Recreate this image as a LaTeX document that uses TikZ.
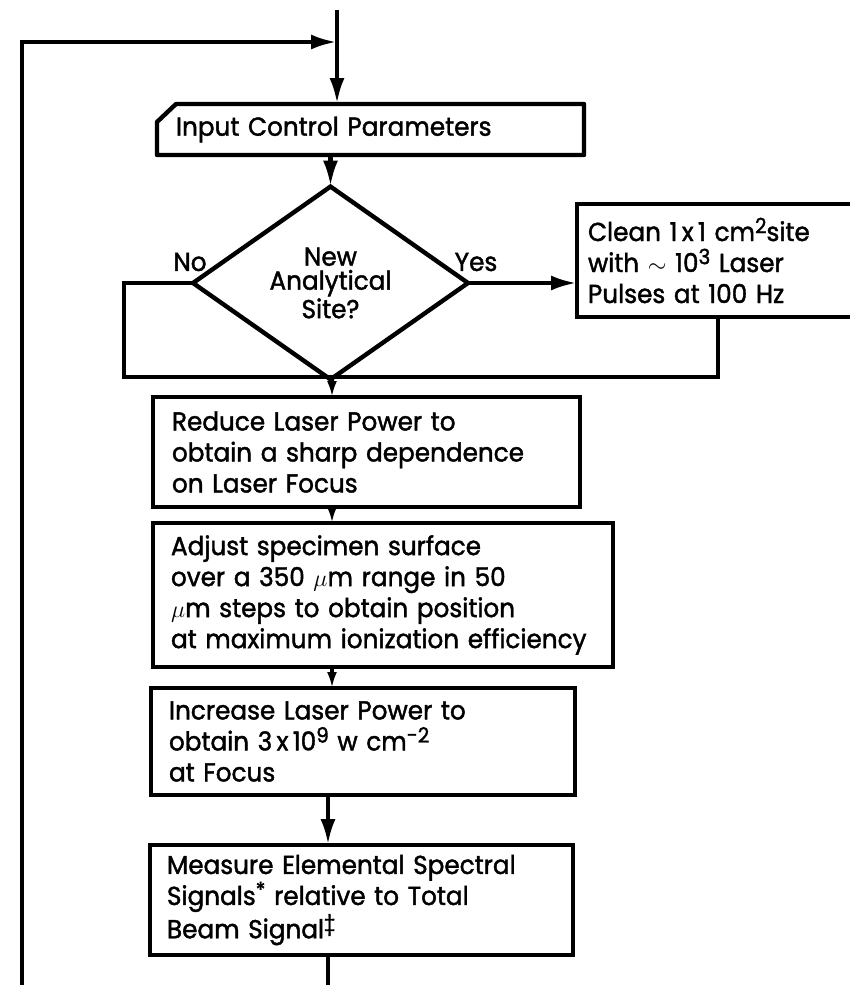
\documentclass[tikz,border=0pt]{standalone}
\usepackage{fontspec}
\setmainfont{Poppins}[FakeStretch=0.95, FakeBold=1.6]
\usetikzlibrary{arrows.meta, positioning, shapes.geometric}

\newcommand{\hoch}[1]{\raisebox{0.55ex}{\fontsize{10.5}{10.5}\selectfont #1}}

\tikzset{
  box/.style={draw, line width=2.2pt, rectangle, anchor=north west, outer sep=0pt,
              align=left, inner ysep=0pt, font=\fontsize{13}{15.5}\selectfont},
  arr/.style={line width=2.2pt, -{Latex[length=13pt,width=7.5pt]}},
  sarr/.style={line width=2.2pt, -{Latex[length=8pt,width=5pt]}},
  lbl/.style={font=\fontsize{13}{15.5}\selectfont, inner sep=0pt}
}

\begin{document}
\begin{tikzpicture}[x=0.5pt, y=-0.5pt]
\clip (0,0) rectangle (850,985);
\useasboundingbox (0,0) rectangle (850,985);

% boxes
\node[box, draw=none, text width=194.5pt, inner xsep=9.5pt, minimum height=25.5pt] (input) at (157,104) {Input Control Parameters};
\draw[line width=2.2pt, line join=round] ([yshift=-9pt]input.north west) -- ([xshift=9.5pt]input.north west)
  -- (input.north east) -- (input.south east) -- (input.south west) -- cycle; % Eingabe
\node[diamond, draw, line width=2.2pt, minimum width=137.5pt, minimum height=80pt, inner sep=0pt, outer sep=0pt,
      align=center, font=\fontsize{13}{12}\selectfont] (dia) at (330.5,283) {New\\Analytical\\Site?};
\node[box, text width=135.5pt, inner xsep=5.5pt, minimum height=56.5pt] (clean) at (577,204)
  {Clean 1\,x\,1 cm\hoch{2}site\\with $\sim$ 10\hoch{3} Laser\\Pulses at 100 Hz};
\node[box, text width=194.5pt, inner xsep=9.5pt, minimum height=55pt] (reduce) at (153,397)
  {Reduce Laser Power to\\obtain a sharp dependence\\on Laser Focus};
\node[box, text width=212pt, inner xsep=9pt, minimum height=72pt] (adjust) at (153,523)
  {Adjust specimen surface\\over a 350 $\mu$m range in 50\\$\mu$m steps to obtain position\\at maximum ionization efficiency};
\node[box, text width=194pt, inner xsep=9pt, minimum height=53.5pt] (increase) at (151,688)
  {Increase Laser Power to\\obtain 3\,x\,10\hoch{9} w cm\hoch{-2}\\at Focus};
\node[box, text width=194.5pt, inner xsep=8.5pt, minimum height=55pt] (measure) at (150,845)
  {Measure Elemental Spectral\\Signals\hoch{*} relative to Total\\Beam Signal\hoch{\ddag}};

\node[lbl] (no) at (190,262) {No};
\node[lbl] (yes) at (476,262) {Yes};

% connectors
\coordinate (top) at (337,10);
\coordinate (join) at (337,42);
\coordinate (loopbot) at (22,985);
\coordinate (noleft) at (124,377);
\coordinate (merge) at (332,377);
\coordinate (outb) at (328,985);

\draw[arr] (top) -- (top |- input.north); % Start
\draw[arr] (loopbot) |- (join); % Schleife
\draw[arr] (input.south -| dia.north) -- (dia.north);
\draw[arr] (dia.east) -- (dia.east -| clean.west);
\draw[line width=2.2pt] (dia.west) -| (noleft) -- (merge);
\draw[line width=2.2pt] ([xshift=70.5pt]clean.south west) |- (merge);
\draw[sarr] (merge) -- (merge |- reduce.north);
\draw[sarr] (reduce.south -| merge) -- (adjust.north -| merge);
\draw[sarr] (adjust.south -| merge) -- (increase.north -| merge);
\draw[arr] (increase.south -| outb) -- (measure.north -| outb);
\draw[line width=2.2pt] (measure.south -| outb) -- (outb);
\end{tikzpicture}
\end{document}
